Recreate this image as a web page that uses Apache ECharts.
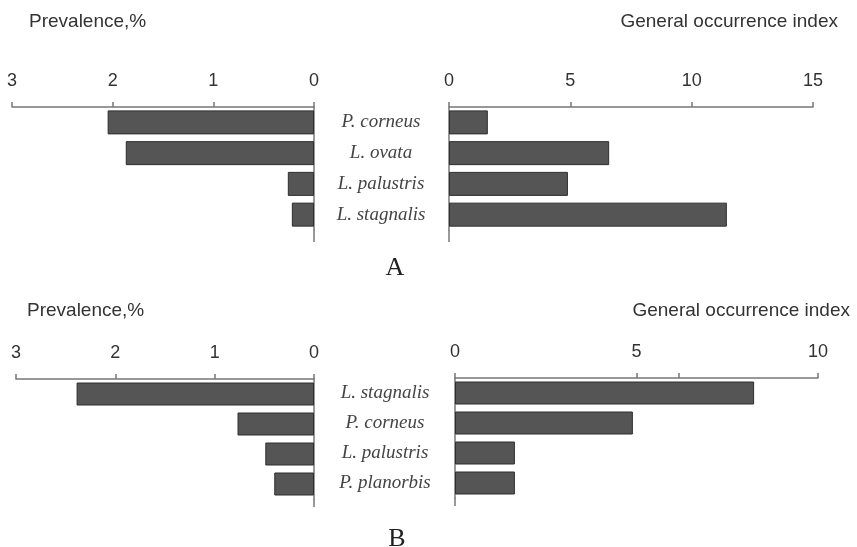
<!DOCTYPE html>
<html>
<head>
<meta charset="utf-8">
<script src="https://cdn.jsdelivr.net/npm/echarts@6/dist/echarts.min.js"></script>
<style>
  html, body { margin: 0; padding: 0; background: #fff; }
  #main { width: 857px; height: 547px; }
</style>
</head>
<body>
<div id="main"></div>
<script>
// panel A
var catsA = ['P. corneus', 'L. ovata', 'L. palustris', 'L. stagnalis'];
var prevA = [2.05, 1.87, 0.26, 0.22];
var indexA = [1.6, 6.6, 4.9, 11.45];
// panel B
var catsB = ['L. stagnalis', 'P. corneus', 'L. palustris', 'P. planorbis'];
var prevB = [2.39, 0.77, 0.49, 0.40];
var indexB = [8.24, 4.9, 1.65, 1.65];

var axisColor = '#777';
var textColor = '#333';

function xAxisFor(gridIndex, max, interval, inverse) {
  return {
    gridIndex: gridIndex,
    type: 'value',
    min: 0,
    max: max,
    interval: interval,
    inverse: inverse,
    position: 'top',
    axisLine: { show: true, lineStyle: { color: axisColor, width: 1.5 } },
    axisTick: { show: true, inside: false, length: 5, lineStyle: { color: axisColor, width: 1.5 } },
    axisLabel: { fontSize: 18, color: textColor, margin: 17, fontFamily: 'Liberation Sans, Arial, sans-serif' },
    splitLine: { show: false }
  };
}

function yAxisFor(gridIndex, cats, pos, showLabel, margin) {
  return {
    gridIndex: gridIndex,
    type: 'category',
    data: cats,
    inverse: true,
    position: pos,
    axisLine: { show: true, lineStyle: { color: axisColor, width: 1.5 } },
    axisTick: { show: false },
    axisLabel: {
      show: showLabel,
      align: 'center',
      margin: margin,
      fontSize: 19,
      fontStyle: 'italic',
      fontFamily: 'Liberation Serif, Times New Roman, serif',
      color: '#444'
    }
  };
}

function barSeries(idx, data, width) {
  return {
    type: 'bar',
    xAxisIndex: idx,
    yAxisIndex: idx,
    data: data,
    barWidth: width,
    itemStyle: { color: '#555', borderColor: '#2e2e2e', borderWidth: 1 },
    silent: true
  };
}

var titleStyle = { fontSize: 19, fontWeight: 'normal', color: textColor, fontFamily: 'Liberation Sans, Arial, sans-serif' };

var xB3 = xAxisFor(3, 10, 5, false);
xB3.axisTick.customValues = [0, 5, 6.17, 10];

var option = {
  animation: false,
  backgroundColor: '#fff',
  title: [
    { text: 'Prevalence,%', left: 29, top: 12, padding: 0, textStyle: titleStyle },
    { text: 'General occurrence index', right: 19, top: 12, padding: 0, textStyle: titleStyle },
    { text: 'Prevalence,%', left: 27, top: 301, padding: 0, textStyle: titleStyle },
    { text: 'General occurrence index', right: 7, top: 301, padding: 0, textStyle: titleStyle }
  ],
  grid: [
    { left: 12, top: 107, width: 302, height: 123 },
    { left: 449, top: 107, width: 364, height: 123 },
    { left: 16, top: 379, width: 298, height: 120 },
    { left: 455, top: 378, width: 363, height: 120 }
  ],
  xAxis: [
    xAxisFor(0, 3, 1, true),
    xAxisFor(1, 15, 5, false),
    xAxisFor(2, 3, 1, true),
    xB3
  ],
  yAxis: [
    yAxisFor(0, catsA, 'right', false, 0),
    yAxisFor(1, catsA, 'left', true, 68),
    yAxisFor(2, catsB, 'right', false, 0),
    yAxisFor(3, catsB, 'left', true, 70)
  ],
  series: [
    barSeries(0, prevA, 24),
    barSeries(1, indexA, 24),
    barSeries(2, prevB, 23),
    barSeries(3, indexB, 23)
  ],
  graphic: [
    // short extensions of the zero lines below the bars
    { type: 'line', shape: { x1: 314, y1: 230, x2: 314, y2: 242 }, style: { stroke: axisColor, lineWidth: 1.5 } },
    { type: 'line', shape: { x1: 449, y1: 230, x2: 449, y2: 242 }, style: { stroke: axisColor, lineWidth: 1.5 } },
    { type: 'line', shape: { x1: 314, y1: 499, x2: 314, y2: 507 }, style: { stroke: axisColor, lineWidth: 1.5 } },
    { type: 'line', shape: { x1: 455, y1: 498, x2: 455, y2: 506 }, style: { stroke: axisColor, lineWidth: 1.5 } },
    { type: 'text', x: 395, y: 268, style: { text: 'A', fontSize: 26, fontFamily: 'Liberation Serif, Times New Roman, serif', fill: '#222', textAlign: 'center', textVerticalAlign: 'middle' } },
    { type: 'text', x: 397, y: 539, style: { text: 'B', fontSize: 26, fontFamily: 'Liberation Serif, Times New Roman, serif', fill: '#222', textAlign: 'center', textVerticalAlign: 'middle' } }
  ]
};

var chart = echarts.init(document.getElementById('main'), null, { renderer: 'canvas' });
chart.setOption(option);
</script>
</body>
</html>
